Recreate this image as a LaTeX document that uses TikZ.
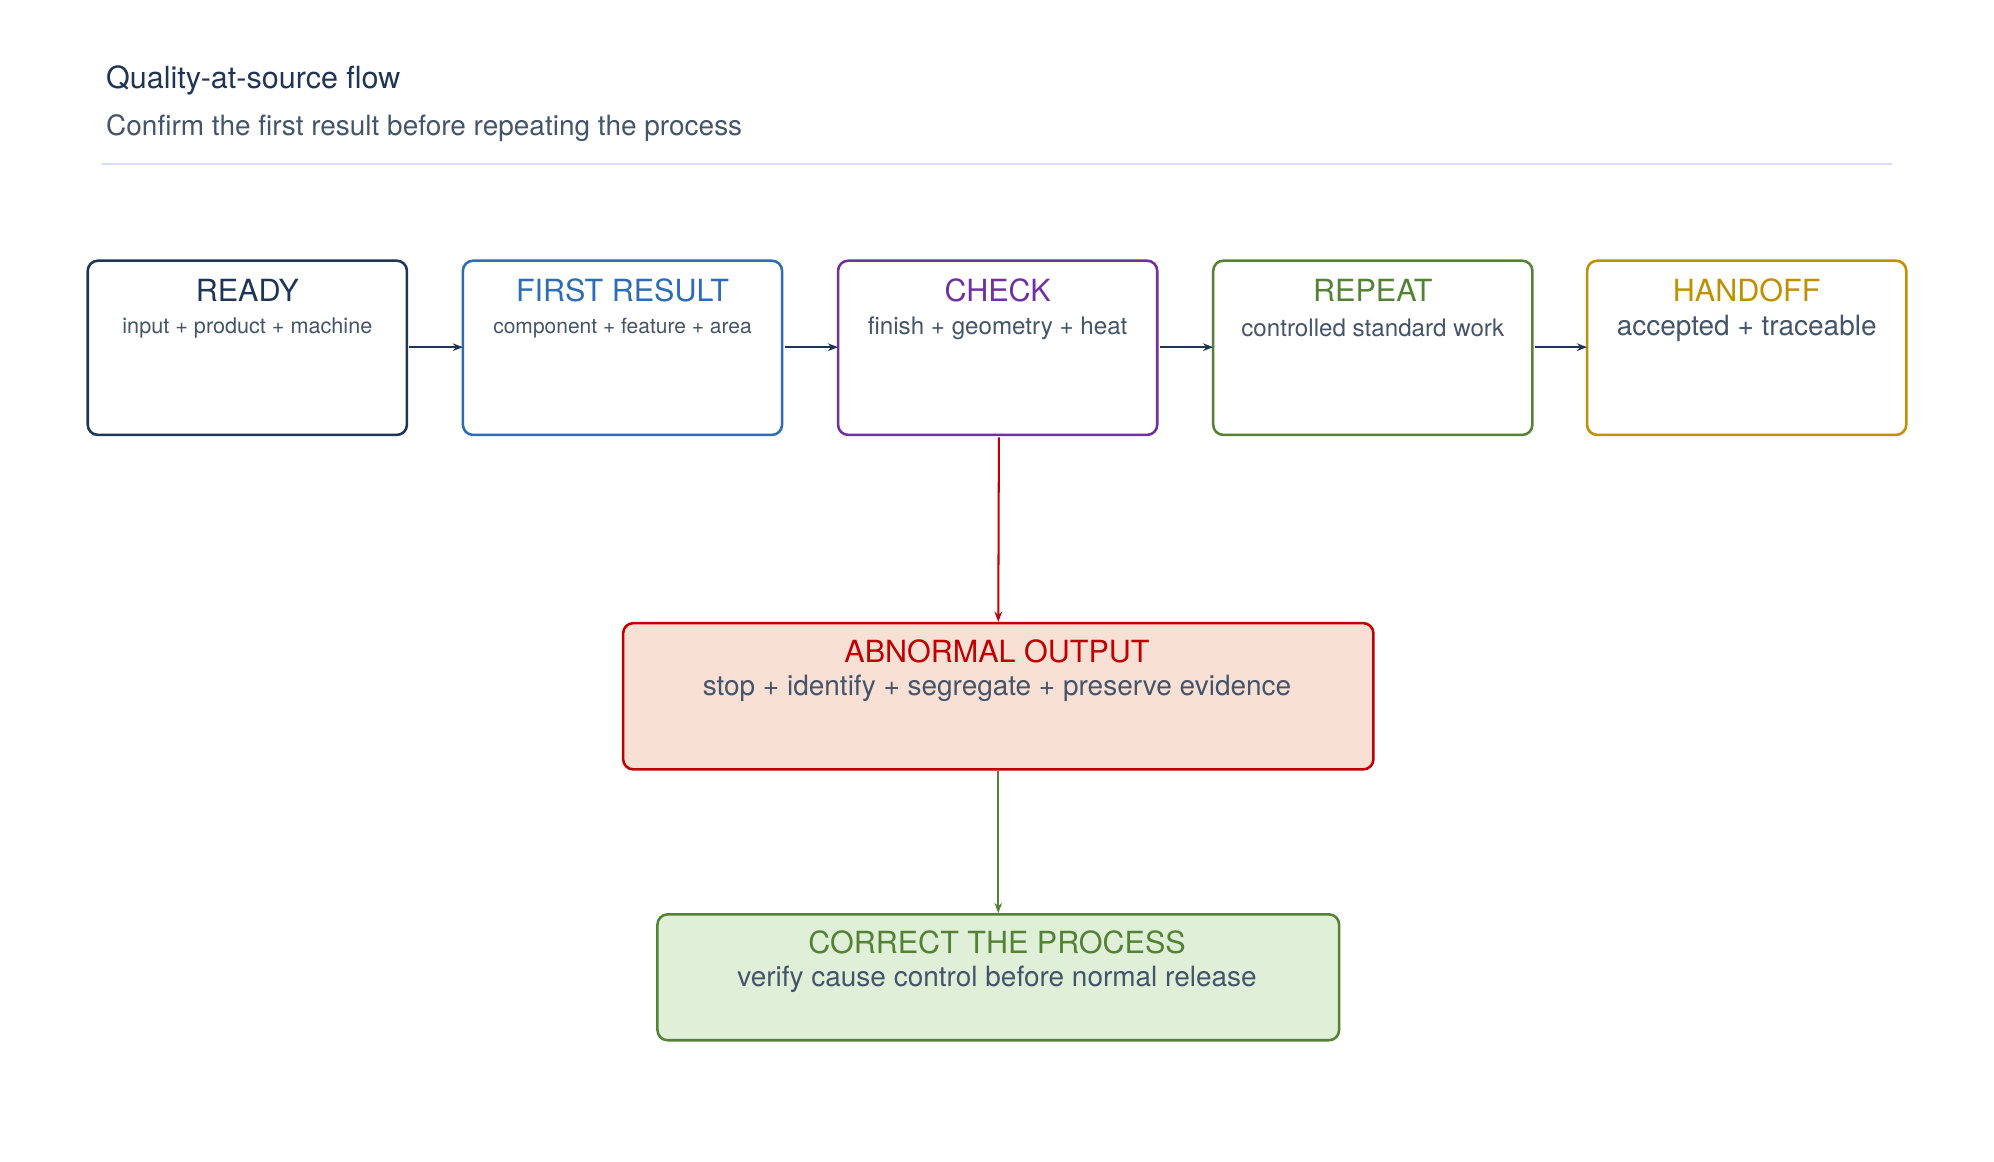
\documentclass[tikz,border=0pt]{standalone}
\usepackage{fontspec}
\setmainfont{TeX Gyre Heros}
\usetikzlibrary{arrows.meta}
\definecolor{navy}{HTML}{1F3557}
\definecolor{cblue}{HTML}{2E6DB4}
\definecolor{cpurp}{HTML}{7030A0}
\definecolor{cgreen}{HTML}{548235}
\definecolor{cgold}{HTML}{BF9000}
\definecolor{cred}{HTML}{C00000}
\definecolor{tgray}{HTML}{44546A}
\definecolor{peach}{HTML}{F9E0D5}
\definecolor{lgreen}{HTML}{E0EFD8}
\definecolor{rule}{HTML}{D6DCF5}
\begin{document}
\begin{tikzpicture}[x=1pt,y=-1pt,
  box/.style={draw, line width=2pt, rounded corners=8pt},
  ttl/.style={font=\fontsize{24}{28}\selectfont, anchor=center},
  sub/.style={font=\fontsize{18}{22}\selectfont, text=tgray, anchor=center},
  arr/.style={-{Stealth[length=8pt,width=6pt]}, line width=1.6pt}]
\useasboundingbox (0,0) rectangle (1568,913);
\node[anchor=west, text=navy, font=\fontsize{24}{28}\selectfont] (t) at (80,63) {Quality-at-source flow};
\node[anchor=west, text=tgray, font=\fontsize{22}{26}\selectfont] (s) at (80,101) {Confirm the first result before repeating the process};
\draw[rule, line width=1.5pt] (80,129) coordinate (r1) -- (1488,129) coordinate (r2);
\foreach \n/\x/\c/\T/\S/\fs in {ready/69/navy/READY/input + product + machine/17,
  first/364/cblue/FIRST RESULT/component + feature + area/16.5,
  check/659/cpurp/CHECK/finish + geometry + heat/19,
  repeat/954/cgreen/REPEAT/controlled standard work/19,
  hand/1248/cgold/HANDOFF/accepted + traceable/22}{
  \draw[box, \c, fill=white] (\x,205) rectangle +(251,137);
  \node[box, draw=none, minimum width=251pt, minimum height=137pt, anchor=north west] (\n) at (\x,205) {};
  \node[ttl, text=\c] (\n-t) at (\x+125.5,228) {\T};
  \node[sub, font=\fontsize{\fs}{22}\selectfont] (\n-s) at (\x+125.5,258) {\S};
}
\draw[arr, navy] (ready.east |- 0,273) -- (first.west |- 0,273);
\draw[arr, navy] (first.east |- 0,273) -- (check.west |- 0,273);
\draw[arr, navy] (check.east |- 0,273) -- (repeat.west |- 0,273);
\draw[arr, navy] (repeat.east |- 0,273) -- (hand.west |- 0,273);
\node[box, draw=cred, fill=peach, minimum width=590pt, minimum height=115pt, anchor=north west] (ab) at (489,489) {};
\node[ttl, text=cred] at (784,512) {ABNORMAL OUTPUT};
\node[sub, font=\fontsize{22}{26}\selectfont] at (784,541) {stop + identify + segregate + preserve evidence};
\node[box, draw=cgreen, fill=lgreen, minimum width=536pt, minimum height=99pt, anchor=north west] (co) at (516,718) {};
\node[ttl, text=cgreen] at (784,741) {CORRECT THE PROCESS};
\node[sub, font=\fontsize{22}{26}\selectfont] at (784,770) {verify cause control before normal release};
\draw[arr, cred] (check.south) -- (ab.north);
\draw[arr, cgreen] (ab.south) -- (co.north);
\end{tikzpicture}
\end{document}
